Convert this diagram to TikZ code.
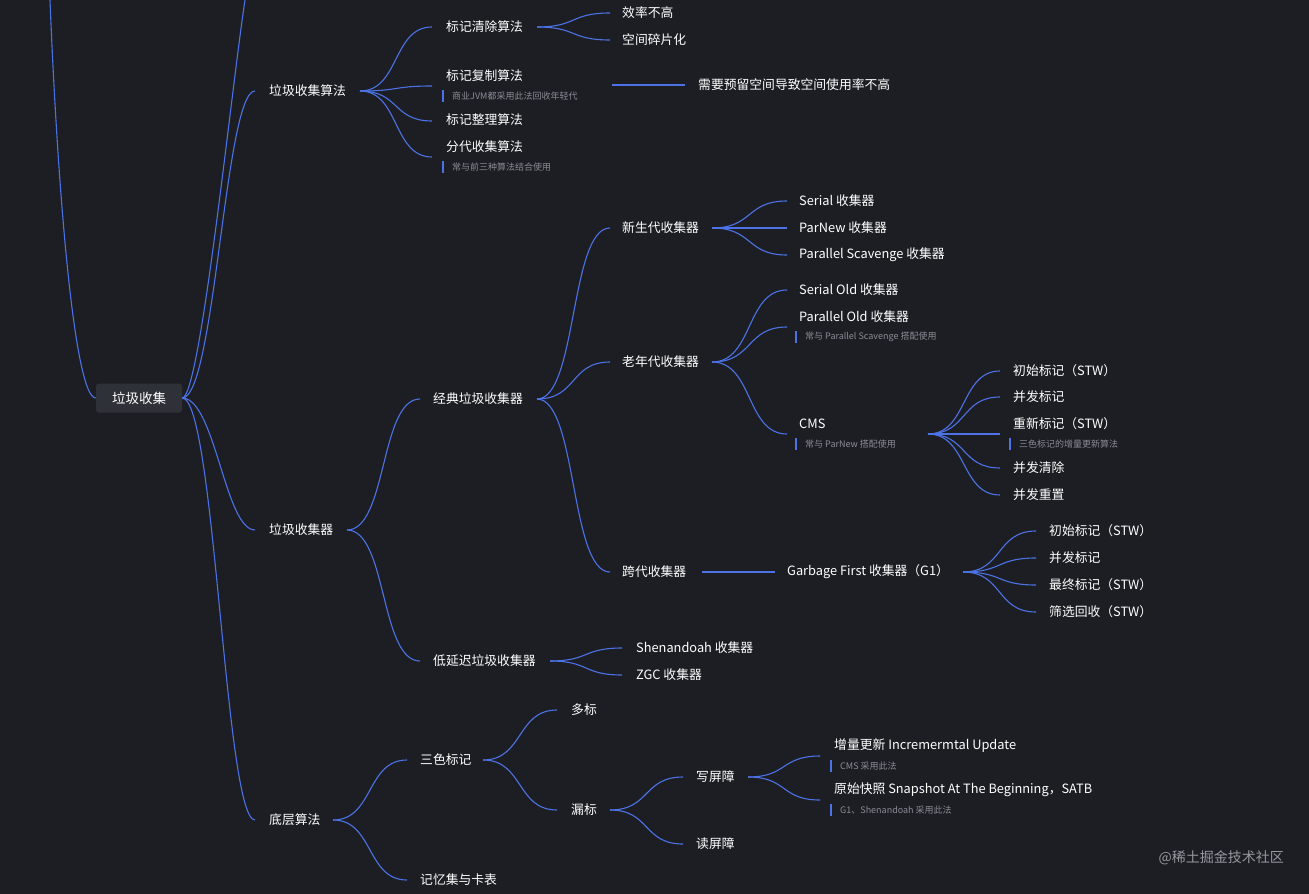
\documentclass[tikz,border=0pt]{standalone}
\usepackage{fontspec}
\usetikzlibrary{calc}
\setmainfont{Noto Sans CJK SC}
\begin{document}
\begin{tikzpicture}[x=1pt,y=-1pt,
  conn/.style={draw=lnblue,line width=1.1pt},
  t/.style={anchor=west,inner sep=0,text=white,font=\fontsize{12.8}{14}\selectfont},
  nt/.style={anchor=west,inner sep=0,text=notegray,font=\fontsize{9}{10}\selectfont}]
\definecolor{bg}{HTML}{1C1E24}
\definecolor{lnblue}{HTML}{4C72E6}
\definecolor{notegray}{HTML}{8A8D96}
\definecolor{rootbg}{HTML}{2E3138}
\fill[bg] (0,0) rectangle (1309,894);
\useasboundingbox (0,0) rectangle (1309,894);
\newcommand\cn[2]{\draw[conn] let \p1=(#1),\p2=(#2),\n1={(\x2-\x1)*0.55} in (\p1) .. controls +(\n1,0) and +(-\n1,0) .. (\p2);}
\newcommand\nt[3]{\draw[lnblue,line width=1.2pt] (#1-3,#2-6)--(#1-3,#2+6); \node[nt] at (#1+6,#2) {#3};}
% root
\node[fill=rootbg,rounded corners=3pt,text=white,font=\fontsize{13.5}{15}\selectfont,minimum width=86pt,minimum height=29pt] (root) at (139,398) {垃圾收集};
\coordinate (topL) at (50,0); \coordinate (topR) at (245,0);
\draw[conn] (root.west) .. controls (75,398) and (58,200) .. (topL);
\draw[conn] (root.east) .. controls (200,398) and (230,100) .. (topR);
% level 1
\node[t] (a) at (269,91) {垃圾收集算法};
\node[t] (b) at (269,530) {垃圾收集器};
\node[t] (c) at (269,820) {底层算法};
\coordinate (ai) at (255,91); \coordinate (bi) at (255,530); \coordinate (ci) at (255,820);
\draw[conn] (root.east) .. controls (215,398) and (225,91) .. (ai);
\draw[conn] (root.east) .. controls (215,398) and (225,530) .. (bi);
\draw[conn] (root.east) .. controls (215,398) and (225,820) .. (ci);
% algorithms
\coordinate (ao) at (360,91);
\node[t] (a1) at (446,27) {标记清除算法};
\node[t] (a2) at (446,76) {标记复制算法}; \nt{446}{96}{商业JVM都采用此法回收年轻代}
\node[t] (a3) at (446,120) {标记整理算法};
\node[t] (a4) at (446,147) {分代收集算法}; \nt{446}{167}{常与前三种算法结合使用}
\coordinate (a1i) at (432,27); \coordinate (a2i) at (432,86); \coordinate (a3i) at (432,121); \coordinate (a4i) at (432,157);
\cn{ao}{a1i}\cn{ao}{a2i}\cn{ao}{a3i}\cn{ao}{a4i}
\coordinate (a1o) at (537,27);
\node[t] (a11) at (622,13) {效率不高}; \node[t] (a12) at (622,40) {空间碎片化};
\coordinate (a11i) at (610,13); \coordinate (a12i) at (610,40);
\cn{a1o}{a11i}\cn{a1o}{a12i}
\coordinate (a2o) at (612,85); \coordinate (a21i) at (685,85);
\node[t] (a21) at (698,85) {需要预留空间导致空间使用率不高};
\draw[conn] (a2o)--(a21i);
% collectors
\coordinate (bo) at (347,530);
\node[t] (b1) at (433,399) {经典垃圾收集器}; \node[t] (b2) at (433,661) {低延迟垃圾收集器};
\coordinate (b1i) at (420,399); \coordinate (b2i) at (420,661);
\cn{bo}{b1i}\cn{bo}{b2i}
\coordinate (b1o) at (537,399);
\node[t] (n1) at (622,228) {新生代收集器}; \node[t] (n2) at (622,362) {老年代收集器}; \node[t] (n3) at (622,572) {跨代收集器};
\coordinate (n1i) at (610,228); \coordinate (n2i) at (610,362); \coordinate (n3i) at (610,572);
\cn{b1o}{n1i}\cn{b1o}{n2i}\cn{b1o}{n3i}
\coordinate (n1o) at (712,228);
\node[t] (y1) at (799,201) {Serial 收集器}; \node[t] (y2) at (799,228) {ParNew 收集器}; \node[t] (y3) at (799,255) {Parallel Scavenge 收集器};
\coordinate (y1i) at (787,201); \coordinate (y2i) at (787,228); \coordinate (y3i) at (787,255);
\cn{n1o}{y1i}\cn{n1o}{y2i}\cn{n1o}{y3i}
\coordinate (n2o) at (712,362);
\node[t] (o1) at (799,290) {Serial Old 收集器};
\node[t] (o2) at (799,317) {Parallel Old 收集器}; \nt{799}{337}{常与 Parallel Scavenge 搭配使用}
\node[t] (o3) at (799,424) {CMS}; \nt{799}{444}{常与 ParNew 搭配使用}
\coordinate (o1i) at (787,290); \coordinate (o2i) at (787,327); \coordinate (o3i) at (787,434);
\cn{n2o}{o1i}\cn{n2o}{o2i}\cn{n2o}{o3i}
\coordinate (o3o) at (928,434);
\node[t] (c1) at (1013,371) {初始标记（STW）}; \node[t] (c2) at (1013,397) {并发标记};
\node[t] (c3) at (1013,424) {重新标记（STW）}; \nt{1013}{444}{三色标记的增量更新算法}
\node[t] (c4) at (1013,468) {并发清除}; \node[t] (c5) at (1013,495) {并发重置};
\coordinate (c1i) at (1000,371); \coordinate (c2i) at (1000,397); \coordinate (c3i) at (1000,434); \coordinate (c4i) at (1000,468); \coordinate (c5i) at (1000,495);
\cn{o3o}{c1i}\cn{o3o}{c2i}\cn{o3o}{c3i}\cn{o3o}{c4i}\cn{o3o}{c5i}
\coordinate (n3o) at (702,572); \coordinate (gi) at (775,572);
\node[t] (g) at (787,572) {Garbage First 收集器（G1）};
\draw[conn] (n3o)--(gi);
\coordinate (go) at (963,572);
\node[t] (g1) at (1049,531) {初始标记（STW）}; \node[t] (g2) at (1049,558) {并发标记};
\node[t] (g3) at (1049,585) {最终标记（STW）}; \node[t] (g4) at (1049,612) {筛选回收（STW）};
\coordinate (g1i) at (1036,531); \coordinate (g2i) at (1036,558); \coordinate (g3i) at (1036,585); \coordinate (g4i) at (1036,612);
\cn{go}{g1i}\cn{go}{g2i}\cn{go}{g3i}\cn{go}{g4i}
\coordinate (b2o) at (550,661);
\node[t] (l1) at (636,648) {Shenandoah 收集器}; \node[t] (l2) at (636,675) {ZGC 收集器};
\coordinate (l1i) at (622,648); \coordinate (l2i) at (622,675);
\cn{b2o}{l1i}\cn{b2o}{l2i}
% low-level
\coordinate (co) at (333,820);
\node[t] (d1) at (420,760) {三色标记}; \node[t] (d2) at (420,880) {记忆集与卡表};
\coordinate (d1i) at (407,760); \coordinate (d2i) at (407,880);
\cn{co}{d1i}\cn{co}{d2i}
\coordinate (d1o) at (483,760);
\node[t] (e1) at (571,710) {多标}; \node[t] (e2) at (571,810) {漏标};
\coordinate (e1i) at (557,710); \coordinate (e2i) at (557,810);
\cn{d1o}{e1i}\cn{d1o}{e2i}
\coordinate (e2o) at (610,810);
\node[t] (f1) at (696,777) {写屏障}; \node[t] (f2) at (696,844) {读屏障};
\coordinate (f1i) at (683,777); \coordinate (f2i) at (683,844);
\cn{e2o}{f1i}\cn{e2o}{f2i}
\coordinate (f1o) at (748,777);
\node[t] (h1) at (834,746) {增量更新 Incremermtal Update}; \nt{834}{766}{CMS 采用此法}
\node[t] (h2) at (834,790) {原始快照 Snapshot At The Beginning，SATB}; \nt{834}{810}{G1、Shenandoah 采用此法}
\coordinate (h1i) at (820,756); \coordinate (h2i) at (820,800);
\cn{f1o}{h1i}\cn{f1o}{h2i}
\node[anchor=east,inner sep=0,text=notegray!90,font=\fontsize{14}{16}\selectfont] (wm) at (1284,858) {@稀土掘金技术社区};
\end{tikzpicture}
\end{document}
